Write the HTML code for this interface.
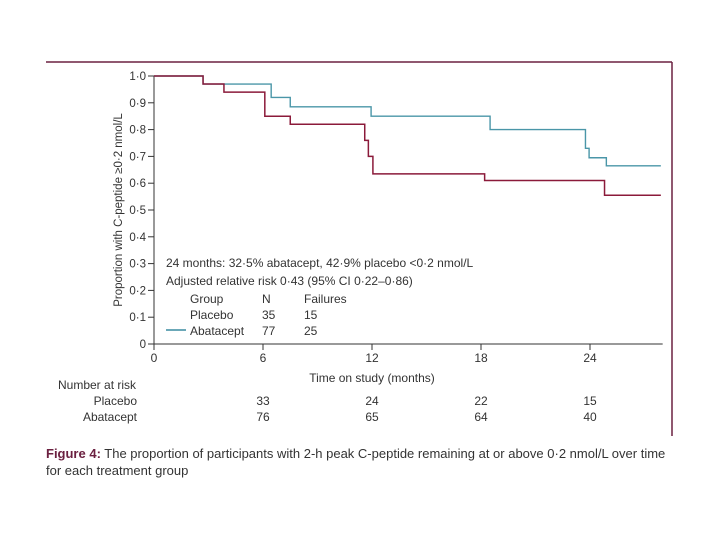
<!DOCTYPE html>
<html><head><meta charset="utf-8"><style>
body{margin:0;background:#fff;width:720px;height:540px;overflow:hidden;font-family:"Liberation Sans",sans-serif;}
svg text{font-family:"Liberation Sans",sans-serif;fill:#333;}
</style></head><body>
<svg id="c" width="720" height="540">
<line x1="46" y1="62" x2="672" y2="62" stroke="#6b2040" stroke-width="1.5"/>
<line x1="672" y1="62" x2="672" y2="436" stroke="#6b2040" stroke-width="1.5"/>
<g id="axes"></g><g id="series"></g>
<text transform="translate(122,210) rotate(-90)" text-anchor="middle" font-size="11.5">Proportion with C-peptide ≥0·2 nmol/L</text>
<text x="372" y="382" text-anchor="middle" font-size="12">Time on study (months)</text>
<g font-size="12">
<text x="166" y="267">24 months: 32·5% abatacept, 42·9% placebo &lt;0·2 nmol/L</text>
<text x="166" y="285">Adjusted relative risk 0·43 (95% CI 0·22–0·86)</text>
</g>
<g font-size="12">
<text x="190" y="303">Group</text><text x="262" y="303">N</text><text x="304" y="303">Failures</text>
<line x1="166" y1="315" x2="186" y2="315" stroke="#8b1a3a" stroke-width="1.5" opacity="0"/>
<text x="190" y="319">Placebo</text><text x="262" y="319">35</text><text x="304" y="319">15</text>
<line x1="166" y1="330" x2="186" y2="330" stroke="#3a8ca0" stroke-width="1.5"/>
<text x="190" y="335">Abatacept</text><text x="262" y="335">77</text><text x="304" y="335">25</text>
</g>
<g font-size="12">
<text x="58" y="389">Number at risk</text>
<text x="137" y="405" text-anchor="end">Placebo</text>
<text x="137" y="421" text-anchor="end">Abatacept</text>
<g id="risk"></g>
</g>
<text x="46" y="458" font-size="13"><tspan font-weight="bold" fill="#6b2040">Figure 4:</tspan> The proportion of participants with 2-h peak C-peptide remaining at or above 0·2 nmol/L over time</text>
<text x="46" y="475" font-size="13">for each treatment group</text>
</svg>
<script>
const xTicks=[0,6,12,18,24];
const yTicks=[0,0.1,0.2,0.3,0.4,0.5,0.6,0.7,0.8,0.9,1.0];
const yTickLabels=["0","0·1","0·2","0·3","0·4","0·5","0·6","0·7","0·8","0·9","1·0"];
const placeboT=[0,2.7,3.85,6.1,7.5,11.6,11.8,12.05,18.2,24.8,27.9];
const placeboS=[1.0,0.97,0.94,0.85,0.82,0.76,0.70,0.635,0.61,0.555,0.555];
const abataceptT=[0,2.7,6.2,6.45,7.3,7.5,11.7,11.95,18.0,18.5,23.6,23.75,23.95,24.9,27.9];
const abataceptS=[1.0,0.97,0.97,0.92,0.92,0.885,0.885,0.85,0.85,0.80,0.80,0.73,0.695,0.665,0.665];
const riskPlacebo=[33,24,22,15];
const riskAbatacept=[76,65,64,40];
const riskTimes=[6,12,18,24];
const NS="http://www.w3.org/2000/svg";
const X=t=>154+t*(436/24), Y=v=>344-v*268;
function mk(tag,at,parent,txt){const e=document.createElementNS(NS,tag);for(const k in at)e.setAttribute(k,at[k]);if(txt!==undefined)e.textContent=txt;parent.appendChild(e);return e;}
const ax=document.getElementById('axes');
let l=mk('line',{x1:X(0),y1:Y(0),x2:X(28),y2:Y(0),stroke:'#333','stroke-width':1},ax);

l=mk('line',{x1:X(0),y1:Y(0),x2:X(0),y2:Y(1),stroke:'#333','stroke-width':1},ax);

xTicks.forEach(t=>{const tk=mk('line',{x1:X(t),y1:Y(0),x2:X(t),y2:Y(0)+6,stroke:'#333'},ax);

const tx=mk('text',{x:X(t),y:Y(0)+18,'text-anchor':'middle','font-size':12},ax,String(t));
});
yTicks.forEach((v,i)=>{const tk=mk('line',{x1:X(0)-6,y1:Y(v),x2:X(0),y2:Y(v),stroke:'#333'},ax);

const tx=mk('text',{x:X(0)-8,y:Y(v)+4,'text-anchor':'end','font-size':11.5},ax,yTickLabels[i]);
});
function step(T,S){let d='M'+X(T[0])+','+Y(S[0]);for(let i=1;i<T.length;i++){d+='H'+X(T[i])+'V'+Y(S[i]);}return d;}
const sg=document.getElementById('series');
let p=mk('path',{d:step(abataceptT,abataceptS),fill:'none',stroke:'#4a96a8','stroke-width':1.4},sg);

p=mk('path',{d:step(placeboT,placeboS),fill:'none',stroke:'#8b1a3a','stroke-width':1.5},sg);

const rk=document.getElementById('risk');
riskTimes.forEach((t,i)=>{let a=mk('text',{x:X(t),y:405,'text-anchor':'middle'},rk,String(riskPlacebo[i]));

let b=mk('text',{x:X(t),y:421,'text-anchor':'middle'},rk,String(riskAbatacept[i]));
});
</script>
</body></html>
